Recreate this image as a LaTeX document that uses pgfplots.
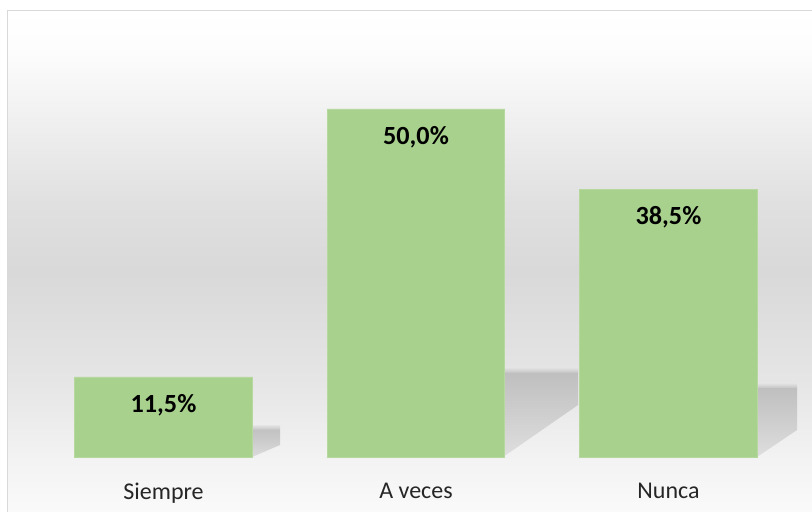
\documentclass[border=0pt]{standalone}
\usepackage{pgfplots}
\pgfplotsset{compat=1.18}
\usepackage{fontspec}
\setmainfont{Carlito}
\definecolor{barg}{HTML}{A9D18E}
\definecolor{brd}{HTML}{D9D9D9}
\pgfdeclareverticalshading{bgshade}{100bp}{color(0bp)=(white!98!black); color(25bp)=(white!98!black); color(30.5bp)=(white!95!black); color(38bp)=(white!90!black); color(49bp)=(white!85!black); color(56bp)=(white!88!black); color(66bp)=(white!95.5!black); color(71bp)=(white!99!black); color(75bp)=(white); color(100bp)=(white)}
\begin{document}
\begin{tikzpicture}
\useasboundingbox (0,0) rectangle (406pt,256pt);
\fill[white] (0,0) rectangle (406pt,256pt);
\shade[shading=bgshade] (3.75pt,0) rectangle (406pt,250.75pt);
\draw[brd, line width=0.8pt] (3.75pt,0) -- (3.75pt,250.75pt) -- (406pt,250.75pt);
\begin{axis}[
  at={(18.625pt,27.5pt)}, anchor=south west,
  scale only axis, width=378.75pt, height=208.8pt,
  xmin=-0.5, xmax=2.5, ymin=0, ymax=60,
  clip=false,
  axis line style={draw=none},
  ytick=\empty,
  xtick={0,1,2},
  xticklabels={Siempre, A veces, Nunca},
  major tick length=0pt,
  xticklabel style={font=\fontsize{12}{14}\selectfont, text=black!85, yshift=-9.5pt},
]
% shadows: soft top strip
\addplot[draw=none, top color=white!88!black, bottom color=white!77!black] coordinates {(0.3505,3.88) (0.3505,4.5) (0.4614,4.5) (0.4614,3.88)} -- cycle;
\addplot[draw=none, top color=white!88!black, bottom color=white!77!black] coordinates {(1.3525,12.07) (1.3525,12.8) (1.6416,12.8) (1.6416,12.07)} -- cycle;
\addplot[draw=none, top color=white!89!black, bottom color=white!77!black] coordinates {(2.3505,9.91) (2.3505,10.6) (2.5089,10.6) (2.5089,9.91)} -- cycle;
% shadows: body
\addplot[draw=none, top color=white!76!black, bottom color=white!86!black] coordinates {(0.3505,0) (0.3505,3.88) (0.4614,3.88) (0.4614,1.72)} -- cycle;
\addplot[draw=none, top color=white!75!black, bottom color=white!87!black] coordinates {(1.3525,0.2) (1.3525,12.07) (1.6416,12.07) (1.6416,7.47)} -- cycle;
\addplot[draw=none, top color=white!75!black, bottom color=white!87!black] coordinates {(2.3505,0) (2.3505,9.91) (2.5089,9.91) (2.5089,3.88)} -- cycle;
% bars
\addplot[ybar, bar width=0.703, fill=barg, draw=barg!85!white, line width=0.4pt,
  nodes near coords, point meta=explicit symbolic,
  every node near coord/.append style={font=\bfseries\fontsize{13.1}{15}\selectfont, anchor=center, yshift=-14pt, text=black}]
  coordinates {(0,11.5) [11,5\%] (1,50.0) [50,0\%] (2,38.5) [38,5\%]};
\end{axis}
\end{tikzpicture}
\end{document}
